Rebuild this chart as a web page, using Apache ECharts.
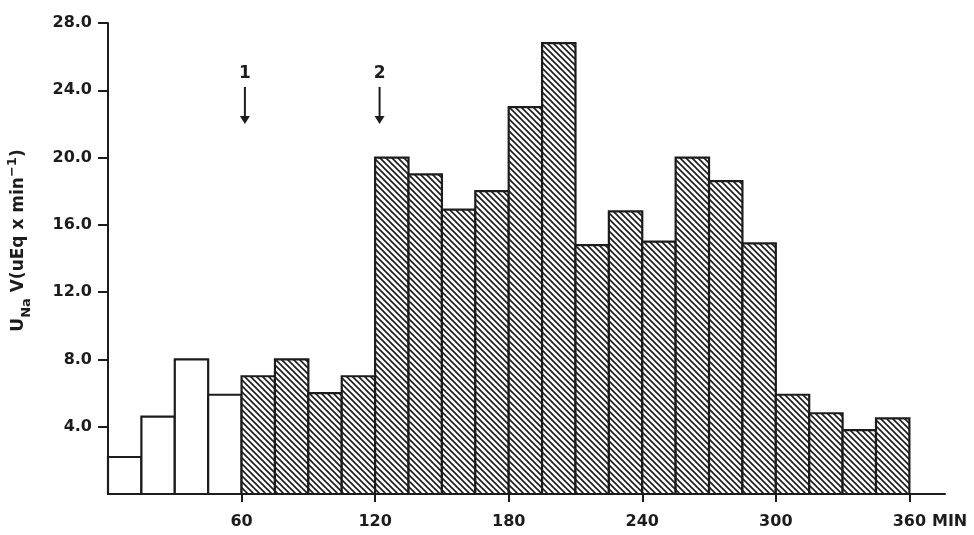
<!DOCTYPE html>
<html>
<head>
<meta charset="utf-8">
<script src="https://cdn.jsdelivr.net/npm/echarts@6/dist/echarts.min.js"></script>
<style>
  html, body { margin: 0; padding: 0; background: #fff; }
  #chart { width: 974px; height: 535px; }
</style>
</head>
<body>
<div id="chart"></div>
<script>
// 15-min collection periods (start minute of each bin)
const binStart = [0, 15, 30, 45, 60, 75, 90, 105, 120, 135, 150, 165,
  180, 195, 210, 225, 240, 255, 270, 285, 300, 315, 330, 345]
const binWidth = 15
// U_Na V, uEq x min^-1
const naExcretion = [2.2, 4.6, 8.0, 5.9, 7.0, 8.0, 6.0, 7.0, 20.0, 19.0, 16.9, 18.0,
  23.0, 26.8, 14.8, 16.8, 15.0, 20.0, 18.6, 14.9, 5.9, 4.8, 3.8, 4.5]
// bins before this minute are the open (control) bars
const controlEnd = 60

const xTicks = [60, 120, 180, 240, 300, 360]
const yTicks = [4, 8, 12, 16, 20, 24, 28]

// arrows 1 and 2
const arrowMin = [61.5, 122]
const arrowText = ['1', '2']

const INK = '#1c1c1c'
const FONT = 'DejaVu Sans'

// diagonal hatch pattern
const makeHatch = () => {
  const s = 6
  const c = document.createElement('canvas')
  c.width = s
  c.height = s
  const ctx = c.getContext('2d')
  ctx.fillStyle = '#fff'
  ctx.fillRect(0, 0, s, s)
  ctx.strokeStyle = INK
  ctx.lineWidth = 1.6
  ctx.beginPath()
  ctx.moveTo(-1, -1); ctx.lineTo(s + 1, s + 1)
  ctx.moveTo(-1, s - 1); ctx.lineTo(1, s + 1)
  ctx.moveTo(s - 1, -1); ctx.lineTo(s + 1, 1)
  ctx.stroke()
  return c
}
const hatch = makeHatch()

const barData = binStart.map((t, i) => [t, t + binWidth, naExcretion[i]])
const arrowData = arrowMin.map((t, i) => [t, arrowText[i]])

const chart = echarts.init(document.getElementById('chart'))

const option = {
  animation: false,
  backgroundColor: '#fff',
  grid: { left: 108, right: 29, top: 23, bottom: 41, containLabel: false, outerBoundsMode: 'none' },
  xAxis: {
    type: 'value',
    min: 0,
    max: 376,
    interval: 60,
    splitLine: { show: false },
    axisLine: { lineStyle: { color: INK, width: 2 } },
    axisTick: { length: 8, customValues: xTicks, lineStyle: { color: INK, width: 2 } },
    axisLabel: {
      margin: 20,
      color: INK,
      fontFamily: FONT,
      fontWeight: 'bold',
      fontSize: 16,
      customValues: xTicks
    },
    name: 'MIN',
    nameLocation: 'end',
    nameGap: -16,
    nameTextStyle: {
      color: INK,
      fontFamily: FONT,
      fontWeight: 'bold',
      fontSize: 16,
      align: 'left',
      verticalAlign: 'top',
      padding: [20, 0, 0, 0]
    }
  },
  yAxis: {
    type: 'value',
    min: 0,
    max: 28,
    interval: 4,
    splitLine: { show: false },
    axisLine: { show: true, lineStyle: { color: INK, width: 2 } },
    axisTick: { show: true, length: 10, customValues: yTicks, lineStyle: { color: INK, width: 2 } },
    axisLabel: {
      margin: 16,
      color: INK,
      fontFamily: FONT,
      fontWeight: 'bold',
      fontSize: 16,
      customValues: yTicks,
      formatter: v => v.toFixed(1)
    },
    name: '{m|U}{sub|Na}{m| V(uEq x min}{sup|\u22121}{m|)}',
    nameLocation: 'middle',
    nameGap: 74,
    nameTextStyle: {
      padding: [0, 0, 0, 36],
      rich: {
        m: { color: INK, fontFamily: FONT, fontWeight: 'bold', fontSize: 17, lineHeight: 30 },
        sub: { color: INK, fontFamily: FONT, fontWeight: 'bold', fontSize: 13, lineHeight: 30, padding: [15, 0, 0, 0] },
        sup: { color: INK, fontFamily: FONT, fontWeight: 'bold', fontSize: 13, lineHeight: 30, padding: [0, 0, 13, 0] }
      }
    }
  },
  series: [
    {
      type: 'custom',
      data: barData,
      encode: { x: [0, 1], y: 2 },
      renderItem: (params, api) => {
        const p0 = api.coord([api.value(0), 0])
        const p1 = api.coord([api.value(1), api.value(2)])
        const open = api.value(0) < controlEnd
        return {
          type: 'rect',
          shape: { x: p0[0], y: p1[1], width: p1[0] - p0[0], height: p0[1] - p1[1] },
          style: {
            fill: open ? '#fff' : { image: hatch, repeat: 'repeat' },
            stroke: INK,
            lineWidth: 2.2
          }
        }
      },
      z: 1
    },
    {
      type: 'custom',
      data: arrowData,
      encode: { x: 0 },
      renderItem: (params, api) => {
        const t = api.value(0)
        const label = arrowText[params.dataIndex]
        const top = api.coord([t, 24.2])
        const tip = api.coord([t, 22.0])
        const txt = api.coord([t, 25.0])
        return {
          type: 'group',
          children: [
            {
              type: 'text',
              style: {
                text: label,
                x: txt[0],
                y: txt[1],
                align: 'center',
                verticalAlign: 'middle',
                fill: INK,
                font: 'bold 17px "DejaVu Sans"'
              }
            },
            {
              type: 'line',
              shape: { x1: top[0], y1: top[1], x2: tip[0], y2: tip[1] - 6 },
              style: { stroke: INK, lineWidth: 2 }
            },
            {
              type: 'polygon',
              shape: { points: [[tip[0] - 5, tip[1] - 8], [tip[0] + 5, tip[1] - 8], [tip[0], tip[1]]] },
              style: { fill: INK }
            }
          ]
        }
      },
      z: 3
    }
  ]
}

chart.setOption(option)

window.addEventListener('resize', () => {
  chart.resize()
})
</script>
</body>
</html>
